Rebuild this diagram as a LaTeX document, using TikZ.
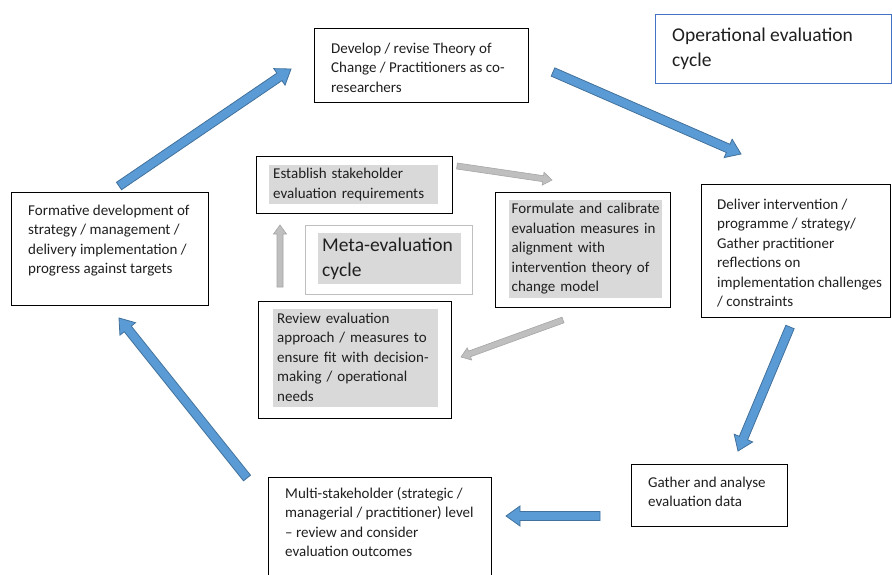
\documentclass[tikz,border=0pt]{standalone}
\usepackage{fontspec}
\setmainfont{Carlito}
\usetikzlibrary{calc}
\definecolor{arrfill}{HTML}{5B9BD5}
\definecolor{arrline}{HTML}{41719C}
\definecolor{garrfill}{HTML}{BFBFBF}
\definecolor{garrline}{HTML}{A6A6A6}
\definecolor{hl}{HTML}{D9D9D9}
\definecolor{opblue}{HTML}{4472C4}
\definecolor{txt}{HTML}{1F1F1F}
\newcommand\blockarrow[6]{%
  \draw[#1] let \p1=(#2), \p2=(#3),
    \n1={atan2(\y2-\y1,\x2-\x1)},
    \n2={veclen(\x2-\x1,\y2-\y1)-#6} in
    ($(\p1)+({\n1+90}:#4)$) --
    ($(\p1)+(\n1:\n2)+({\n1+90}:#4)$) --
    ($(\p1)+(\n1:\n2)+({\n1+90}:#5)$) --
    (\p2) --
    ($(\p1)+(\n1:\n2)+({\n1-90}:#5)$) --
    ($(\p1)+(\n1:\n2)+({\n1-90}:#4)$) --
    ($(\p1)+({\n1-90}:#4)$) -- cycle;}
\begin{document}
\begin{tikzpicture}[x=1pt,y=-1pt,
  frame/.style={draw=black, line width=1.4pt, anchor=north west, inner sep=0pt},
  body/.style={anchor=north west, inner sep=0pt, align=left, font=\fontsize{15}{19.5}\selectfont, text=txt},
  hilite/.style={anchor=north west, fill=hl, inner xsep=4pt, inner ysep=0pt, align=left, font=\fontsize{15}{19.5}\selectfont, text=txt},
  bigtext/.style={font=\fontsize{19.5}{25}\selectfont},
  bluearrow/.style={fill=arrfill, draw=arrline, line width=0.8pt},
  greyarrow/.style={fill=garrfill, draw=garrline, line width=0.6pt}]
\useasboundingbox (0,0) rectangle (892,575);
\fill[white] (0,0) rectangle (892,575);

% operational cycle boxes
\node[frame, minimum width=214pt, minimum height=74pt] (dev) at (314,28) {};
\node[body] (devT) at (331,39.2) {\strut Develop / revise Theory of\\Change / Practitioners as co-\\researchers};

\node[frame, draw=opblue, line width=1.3pt, minimum width=236pt, minimum height=69pt] (opbox) at (655,14) {};
\node[body, bigtext] (opT) at (672,24) {\strut Operational evaluation\\cycle};

\node[frame, minimum width=189pt, minimum height=133pt] (deliver) at (701,184) {};
\node[body] (deliverT) at (717,195.2) {\strut Deliver intervention /\\programme / strategy/\\Gather practitioner\\reflections on\\implementation challenges\\/ constraints};

\node[frame, minimum width=156pt, minimum height=62pt] (gather) at (631,464) {};
\node[body] (gatherT) at (648,473.2) {\strut Gather and analyse\\evaluation data};

\node[frame, minimum width=223pt, minimum height=110pt] (multi) at (268,477) {};
\node[body] (multiT) at (285,484.2) {\strut Multi-stakeholder (strategic /\\managerial / practitioner) level\\-- review and consider\\evaluation outcomes};

\node[frame, minimum width=197pt, minimum height=113pt] (formative) at (11,192) {};
\node[body] (formativeT) at (28,201.2) {\strut Formative development of\\strategy / management /\\delivery implementation /\\progress against targets};

% meta-evaluation cycle
\node[frame, minimum width=196pt, minimum height=57pt] (establishB) at (256,156) {};
\node[hilite, text width=161pt, minimum height=39pt] (establish) at (269,165) {\strut Establish stakeholder\\evaluation requirements\strut};

\node[frame, minimum width=175pt, minimum height=115pt] (formulateB) at (495,192) {};
\node[hilite, inner xsep=2.5pt, text width=148pt, minimum height=97pt] (formulate) at (509,200) {\strut Formulate and calibrate\\evaluation measures in\\alignment with\\intervention theory of\\change model\strut};

\node[frame, minimum width=193pt, minimum height=117pt] (reviewB) at (258,301) {};
\node[hilite, text width=157pt, minimum height=98pt] (review) at (273,309) {\strut Review evaluation\\approach / measures to\\ensure fit with decision-\\making / operational\\needs\strut};

\node[frame, draw=garrfill, line width=0.8pt, minimum width=167pt, minimum height=69pt] (metabox) at (305,225) {};
\node[hilite, bigtext, text width=135pt, minimum height=51pt] (meta) at (318,233) {\strut Meta-evaluation\\cycle\strut};

% arrow end points
\coordinate (b1s) at (119,186); \coordinate (b1e) at (291,69);
\coordinate (b2s) at (553,72);  \coordinate (b2e) at (741,154);
\coordinate (b3s) at (790,327); \coordinate (b3e) at (738,451);
\coordinate (b4s) at (600,516); \coordinate (b4e) at (506,516);
\coordinate (b5s) at (247,478); \coordinate (b5e) at (119,318);
\coordinate (g1s) at (457,166); \coordinate (g1e) at (552,180);
\coordinate (g2s) at (563,320); \coordinate (g2e) at (461,357);
\coordinate (g3s) at (280,287); \coordinate (g3e) at (280,225);

\blockarrow{bluearrow}{b1s}{b1e}{4.5pt}{10pt}{14pt}
\blockarrow{bluearrow}{b2s}{b2e}{4.5pt}{10pt}{14pt}
\blockarrow{bluearrow}{b3s}{b3e}{4.5pt}{10pt}{14pt}
\blockarrow{bluearrow}{b4s}{b4e}{4.5pt}{10pt}{14pt}
\blockarrow{bluearrow}{b5s}{b5e}{4.5pt}{10pt}{14pt}
\blockarrow{greyarrow}{g1s}{g1e}{3pt}{6.5pt}{9pt}
\blockarrow{greyarrow}{g2s}{g2e}{3pt}{6.5pt}{9pt}
\blockarrow{greyarrow}{g3s}{g3e}{3pt}{6.5pt}{9pt}
\end{tikzpicture}
\end{document}
